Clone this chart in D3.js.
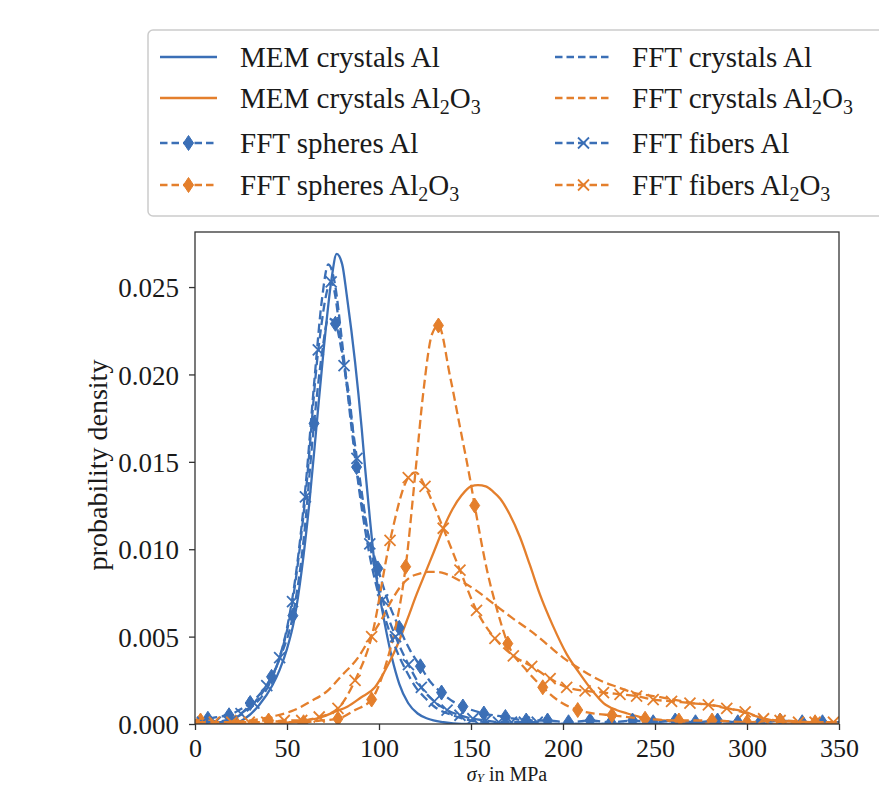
<!DOCTYPE html>
<html><head><meta charset="utf-8">
<script src="https://cdn.jsdelivr.net/npm/d3@7"></script>
<style>
body{margin:0;background:#fff}
svg{display:block}
text{font-family:"Liberation Serif","Times New Roman",serif;fill:#1a1a1a}
</style>
</head><body>
<svg id="c" width="879" height="785"></svg>
<script>
// ---------------- data ----------------
const xTicks = [0, 50, 100, 150, 200, 250, 300, 350];
const yTicks = [0, 0.005, 0.010, 0.015, 0.020, 0.025];
const yTickLabels = ["0.000", "0.005", "0.010", "0.015", "0.020", "0.025"];

// MEM crystals Al (solid blue)
const memAlX = [0,20,27,35,42,46,50,54,58,62,66,70,74,77,80,82.4,85,87,90.6,92.4,95,98,101.6,107,111,115.8,121,126.6,135,145,350];
const memAlY = [0,0,0.0003,0.0011,0.0022,0.0031,0.0043,0.006,0.0088,0.0125,0.017,0.0215,0.0253,0.0269,0.0263,0.0246,0.0225,0.0207,0.0169,0.0147,0.0118,0.0088,0.0066,0.0038,0.0023,0.0012,0.0006,0.0003,0.0001,0,0];

// MEM crystals Al2O3 (solid orange)
const memOxX = [0,40,52,60,69,76,83,90,97.8,103,108.7,115.8,120,125,130,135,140,145,150,153.8,158,162,165.8,171,176.6,182,187.5,194.6,202,209,216,222,229,235,242,255,270,290,350];
const memOxY = [0,0,0.0001,0.0002,0.0004,0.0007,0.001,0.0015,0.0021,0.003,0.0042,0.0061,0.0073,0.0086,0.0099,0.0112,0.0123,0.0131,0.0136,0.01367,0.0136,0.0133,0.0129,0.012,0.0107,0.0091,0.0074,0.0056,0.004,0.0029,0.0019,0.0012,0.0008,0.0006,0.0004,0.0002,0.0001,0,0];

// FFT spheres Al (blue dashed, diamonds)
const sphAlMarkX = [7,18.5,30,41.6,53.2,64.7,76.3,87.8,99.4,111,122.5,134,145.6,157,168.7,180,191.6,203,214.7,226,237.8,249,261,272,284,295,307,318,330,341];
const sphAlMarkY = [0.0003,0.0005,0.0012,0.0027,0.0062,0.0172,0.0229,0.0147,0.0089,0.0055,0.0033,0.0018,0.001,0.0006,0.0004,0.0002,0.0002,0.0001,0.0002,0.0001,0.0002,0.0001,0.0002,0.0001,0.0002,0.0001,0.0001,0.0002,0.0001,0.0001];
const sphAlLineX = [0,12,24,36,47,59,69,72.5,81,84,93,105,117,128,140,350];
const sphAlLineY = [0.0002,0.0004,0.0008,0.0018,0.004,0.0105,0.0212,0.0232,0.0205,0.0186,0.0114,0.007,0.0042,0.0024,0.0013,0.0001];

// FFT spheres Al2O3 (orange dashed, diamonds)
const sphOxMarkX = [3,22,40,59,77.7,96,114.5,132.3,152,170,189,208,226.6,244.6,263,281,300,318,337];
const sphOxMarkY = [0.0002,0.0001,0.0002,0.0001,0.0003,0.0014,0.009,0.0228,0.0125,0.0046,0.0021,0.0008,0.0005,0.0003,0.0002,0.0002,0.0001,0.0002,0.0001];
const sphOxLineX = [0,50,68,87,98.7,104,108.7,112,119.6,124,128.8,138.6,144,149.5,158.7,164,180,198,217,350];
const sphOxLineY = [0.0001,0.0001,0.0002,0.0008,0.0019,0.0035,0.0054,0.0072,0.0142,0.0189,0.0223,0.0199,0.017,0.014,0.0088,0.0066,0.0031,0.0013,0.0006,0.0001];

// FFT crystals Al (blue dashed)
const crAlX = [0,10,20,30,40,45,50,55,60,65,69,72.5,76,80,85,90,95,100,105,110,115,120,125,130,140,150,160,175,350];
const crAlY = [0,0.0001,0.0003,0.0009,0.0022,0.0035,0.0055,0.0087,0.0135,0.0198,0.0243,0.0263,0.0252,0.0218,0.017,0.0128,0.0096,0.0073,0.0055,0.0041,0.003,0.0021,0.0015,0.001,0.0005,0.0002,0.0001,0,0];

// FFT crystals Al2O3 (orange dashed)
const crOxX = [0,20,36,45,54,63,72,80,88.6,95,101.5,107,112,117,122,126.6,131,136,144,152,162,172,184,192,200,210,220,230,238,249,260,270,280,290,300,310,320,350];
const crOxY = [0,0.0001,0.0003,0.0005,0.0008,0.0013,0.0019,0.0028,0.0038,0.0049,0.006,0.0071,0.0079,0.0084,0.0086,0.0087,0.0087,0.0086,0.0082,0.0077,0.0069,0.0061,0.0052,0.0045,0.0038,0.0031,0.0025,0.0021,0.0018,0.0016,0.0014,0.0012,0.0011,0.0009,0.0006,0.0003,0.0001,0];

// FFT fibers Al (blue dashed, x)
const fibAlMarkX = [4,11,18,25,32,39,46,53,60,67,74,81,88,95,102,109,116,123,130,137,144,151,158,165,172,179,186];
const fibAlMarkY = [0.0001,0.0001,0.0002,0.0006,0.0012,0.0022,0.0038,0.007,0.013,0.0214,0.0253,0.0205,0.0152,0.0103,0.0071,0.005,0.0034,0.0021,0.0013,0.0008,0.0005,0.0003,0.0002,0.0001,0.0001,0.0001,0.0001];

// FFT fibers Al2O3 (orange dashed, x)
const fibOxMarkX = [1,10.5,20,29.5,39,48.5,58,67.5,77.7,87,96,106,115.9,125,134.9,144,153,163,173,183,193,202,212,222,231,240,249,259,269,279,289,299,309,318,328,337,347];
const fibOxMarkY = [0.0001,0.0001,0.0001,0.0001,0.0001,0.0002,0.0002,0.0004,0.0009,0.0025,0.005,0.0105,0.0141,0.0136,0.0112,0.0088,0.0065,0.0049,0.0039,0.0033,0.0026,0.0021,0.0019,0.0018,0.0017,0.0016,0.0014,0.0013,0.0012,0.0011,0.0009,0.0007,0.0003,0.0002,0.0001,0.0001,0.0001];
const fibOxLineX = [120];
const fibOxLineY = [0.0144];

const legendLabels = [
  ["MEM crystals Al", ""], ["MEM crystals Al", "ox"],
  ["FFT spheres Al", ""], ["FFT spheres Al", "ox"],
  ["FFT crystals Al", ""], ["FFT crystals Al", "ox"],
  ["FFT fibers Al", ""], ["FFT fibers Al", "ox"]
];

// ---------------- drawing ----------------
const BLUE = "#3b6fb6", ORANGE = "#e47f2c";
const svg = d3.select("#c");
const L = 195, R = 839, T = 232, B = 724;
const x = d3.scaleLinear().domain([0, 350]).range([L, R]);
const y = d3.scaleLinear().domain([0, 0.02815]).range([B, T]);

const zip = (xs, ys) => xs.map((v, i) => [v, ys[i]]);
const merge = (a, b) => a.concat(b).sort((p, q) => p[0] - q[0]);

svg.append("defs").append("clipPath").attr("id", "plotclip")
  .append("rect").attr("x", L).attr("y", T).attr("width", R - L).attr("height", B - T);

const line = d3.line().x(d => x(d[0])).y(d => y(d[1])).curve(d3.curveMonotoneX);
const DASH = "9,4.5";
const LW = 2.3;
const HW = 5, HH = 7.5, XS = 5.5;
const diamondPath = `M0,${-HH}L${HW},0L0,${HH}L${-HW},0Z`;
const xPath = `M${-XS},${-XS}L${XS},${XS}M${-XS},${XS}L${XS},${-XS}`;

const series = [
  {pts: zip(memAlX, memAlY), color: BLUE, dash: null, marks: null},
  {pts: zip(memOxX, memOxY), color: ORANGE, dash: null, marks: null},
  {pts: merge(zip(sphAlMarkX, sphAlMarkY), zip(sphAlLineX, sphAlLineY)), color: BLUE, dash: DASH, marks: zip(sphAlMarkX, sphAlMarkY), mtype: "d"},
  {pts: merge(zip(sphOxMarkX, sphOxMarkY), zip(sphOxLineX, sphOxLineY)), color: ORANGE, dash: DASH, marks: zip(sphOxMarkX, sphOxMarkY), mtype: "d"},
  {pts: zip(crAlX, crAlY), color: BLUE, dash: DASH, marks: null},
  {pts: zip(crOxX, crOxY), color: ORANGE, dash: DASH, marks: null},
  {pts: zip(fibAlMarkX, fibAlMarkY), color: BLUE, dash: DASH, marks: zip(fibAlMarkX, fibAlMarkY), mtype: "x"},
  {pts: merge(zip(fibOxMarkX, fibOxMarkY), zip(fibOxLineX, fibOxLineY)), color: ORANGE, dash: DASH, marks: zip(fibOxMarkX, fibOxMarkY), mtype: "x"}
];

const plot = svg.append("g").attr("clip-path", "url(#plotclip)");
series.forEach(s => {
  plot.append("path").datum(s.pts)
    .attr("d", line).attr("fill", "none")
    .attr("stroke", s.color).attr("stroke-width", LW)
    .attr("stroke-dasharray", s.dash);
  if (s.marks) {
    plot.append("g").selectAll("path").data(s.marks).join("path")
      .attr("transform", d => `translate(${x(d[0])},${y(d[1])})`)
      .attr("d", s.mtype === "d" ? diamondPath : xPath)
      .attr("fill", s.mtype === "d" ? s.color : "none")
      .attr("stroke", s.color)
      .attr("stroke-width", s.mtype === "d" ? 1 : 1.8);
  }
});

// frame
svg.append("rect").attr("x", L).attr("y", T).attr("width", R - L).attr("height", B - T)
  .attr("fill", "none").attr("stroke", "#333").attr("stroke-width", 1.3);

// axes
const xAxis = svg.append("g").attr("transform", `translate(0,${B})`)
  .call(d3.axisBottom(x).tickValues(xTicks).tickSize(6).tickFormat(d3.format("d")));
xAxis.select(".domain").remove();
xAxis.selectAll(".tick line").attr("stroke", "#333").attr("stroke-width", 1.3);
xAxis.selectAll(".tick text").attr("y", 33).attr("dy", 0)
  .style("font-family", '"Liberation Serif",serif').style("font-size", "26px").attr("fill", "#1a1a1a");

const yAxis = svg.append("g").attr("transform", `translate(${L},0)`)
  .call(d3.axisLeft(y).tickValues(yTicks).tickSize(6).tickPadding(10).tickFormat((d, i) => yTickLabels[i]));
yAxis.select(".domain").remove();
yAxis.selectAll(".tick line").attr("stroke", "#333").attr("stroke-width", 1.3);
yAxis.selectAll(".tick text").attr("dy", "0.36em")
  .style("font-family", '"Liberation Serif",serif').style("font-size", "27px").attr("fill", "#1a1a1a");

// axis labels
svg.append("text").attr("transform", "translate(107,465) rotate(-90)")
  .attr("text-anchor", "middle").style("font-size", "28px").text("probability density");

const xl = svg.append("text").attr("x", 507).attr("y", 781).attr("text-anchor", "middle").style("font-size", "20px");
xl.append("tspan").style("font-style", "italic").text("σ");
xl.append("tspan").style("font-style", "italic").style("font-size", "13px").attr("dy", 1).text("Y");
xl.append("tspan").attr("dy", -1).text(" in MPa");

// legend
const lg = svg.append("g");
lg.append("rect").attr("x", 148).attr("y", 30).attr("width", 760).attr("height", 186)
  .attr("rx", 5).attr("fill", "#fff").attr("stroke", "#cccccc").attr("stroke-width", 1.5);
const rowY = [57, 98, 143, 185];
const colLine = [160, 555], colText = [240, 632];
legendLabels.forEach((lab, i) => {
  const s = series[i];
  const col = Math.floor(i / 4), row = i % 4;
  const ly = rowY[row];
  const x0 = colLine[col], x1 = colLine[col] + 57;
  lg.append("line").attr("x1", x0).attr("x2", x1).attr("y1", ly).attr("y2", ly)
    .attr("stroke", s.color).attr("stroke-width", LW).attr("stroke-dasharray", s.dash ? "7.5,4" : null);
  if (s.marks) {
    lg.append("path").attr("transform", `translate(${(x0 + x1) / 2},${ly})`)
      .attr("d", s.mtype === "d" ? diamondPath : xPath)
      .attr("fill", s.mtype === "d" ? s.color : "none")
      .attr("stroke", s.color).attr("stroke-width", s.mtype === "d" ? 1 : 1.8);
  }
  const t = lg.append("text").attr("x", colText[col]).attr("y", ly + 10).style("font-size", "29px");
  t.append("tspan").text(lab[0]);
  if (lab[1] === "ox") {
    t.append("tspan").attr("dy", 6).style("font-size", "20px").text("2");
    t.append("tspan").attr("dy", -6).text("O");
    t.append("tspan").attr("dy", 6).style("font-size", "20px").text("3");
  }
});
</script>
</body></html>
